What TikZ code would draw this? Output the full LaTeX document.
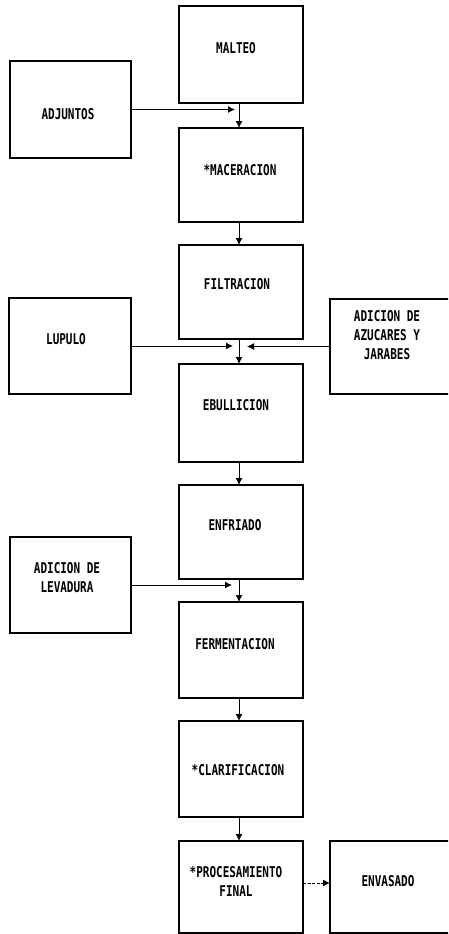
\documentclass[tikz,border=0pt]{standalone}
\usepackage{fontspec}
\usepackage{graphicx}
\newfontfamily\dmono{DejaVu Sans Mono}
\usetikzlibrary{arrows.meta}
\newcommand\tx[1]{\scalebox{1}[1.35]{\begin{tabular}{@{}c@{}}#1\end{tabular}}}
\tikzset{
  box/.style={draw, line width=1.6pt, rectangle, inner sep=0pt, outer sep=0pt},
  lbl/.style={inner sep=0pt, font=\dmono\bfseries\fontsize{11}{14}\selectfont},
  arr/.style={line width=1pt, -{Latex[length=7pt,width=7pt]}},
}
\begin{document}
\begin{tikzpicture}[x=1pt,y=-1pt]
\useasboundingbox (0,0) rectangle (448,934);
\fill[white] (0,0) rectangle (448,934);
\clip (0,0) rectangle (448,934);
% main column boxes
\node[box, minimum width=124pt, minimum height=97pt] (malteo) at (241,54.5) {};
\node[box, minimum width=124pt, minimum height=94pt] (macer) at (241,175) {};
\node[box, minimum width=124pt, minimum height=94pt] (filtr) at (241,292) {};
\node[box, minimum width=124pt, minimum height=98pt] (ebull) at (241,413) {};
\node[box, minimum width=124pt, minimum height=94pt] (enfri) at (241,532) {};
\node[box, minimum width=124pt, minimum height=96pt] (ferme) at (241,650) {};
\node[box, minimum width=124pt, minimum height=96pt] (clari) at (241,769) {};
\node[box, minimum width=124pt, minimum height=92pt] (proce) at (241,887) {};
\node[box, minimum width=125pt, minimum height=92pt] (envas) at (392.5,887) {};
% side boxes
\node[box, minimum width=121pt, minimum height=97pt] (adjun) at (70.5,109.5) {};
\node[box, minimum width=122pt, minimum height=96pt] (lupul) at (70,346) {};
\node[box, minimum width=125pt, minimum height=95pt] (azuca) at (392.5,346.5) {};
\node[box, minimum width=121pt, minimum height=96pt] (levad) at (70.5,585) {};
% labels
\node[lbl] (tmalteo) at (236,50) {\tx{MALTEO}};
\node[lbl] (tmacer) at (240,172) {\tx{*MACERACION}};
\node[lbl] (tfiltr) at (237,286) {\tx{FILTRACION}};
\node[lbl] (tebull) at (236,407) {\tx{EBULLICION}};
\node[lbl] (tenfri) at (235,527) {\tx{ENFRIADO}};
\node[lbl] (tferme) at (235,646) {\tx{FERMENTACION}};
\node[lbl] (tclari) at (238,772) {\tx{*CLARIFICACION}};
\node[lbl] (tproce) at (236,883) {\tx{*PROCESAMIENTO\\FINAL}};
\node[lbl] (tenvas) at (388,883) {\tx{ENVASADO}};
\node[lbl] (tadjun) at (68,116) {\tx{ADJUNTOS}};
\node[lbl] (tlupul) at (66,341) {\tx{LUPULO}};
\node[lbl] (tazuca) at (387,337) {\tx{ADICION DE\\AZUCARES Y\\JARABES}};
\node[lbl] (tlevad) at (67,579.5) {\tx{ADICION DE\\LEVADURA}};
% junction points
\coordinate (j1) at (235,109.5);
\coordinate (j2) at (233,346);
\coordinate (j3) at (247,346.5);
\coordinate (j4) at (232,585);
% connectors
\draw[arr] ([xshift=-2pt]malteo.south) -- ([xshift=-2pt]macer.north);
\draw[arr] ([xshift=-2pt]macer.south) -- ([xshift=-2pt]filtr.north);
\draw[arr] ([xshift=-2pt]filtr.south) -- ([xshift=-2pt]ebull.north);
\draw[arr] ([xshift=-2pt]ebull.south) -- ([xshift=-2pt]enfri.north);
\draw[arr] ([xshift=-2pt]enfri.south) -- ([xshift=-2pt]ferme.north);
\draw[arr] ([xshift=-2pt]ferme.south) -- ([xshift=-2pt]clari.north);
\draw[arr] ([xshift=-2pt]clari.south) -- ([xshift=-2pt]proce.north);
\draw[arr] (adjun.east) -- (j1);
\draw[arr] (lupul.east) -- (j2);
\draw[arr] (azuca.west) -- (j3);
\draw[arr] (levad.east) -- (j4);
\draw[arr, dash pattern=on 3pt off 1.5pt] ([yshift=4pt]proce.east) -- ([yshift=4pt]envas.west);
\end{tikzpicture}
\end{document}
